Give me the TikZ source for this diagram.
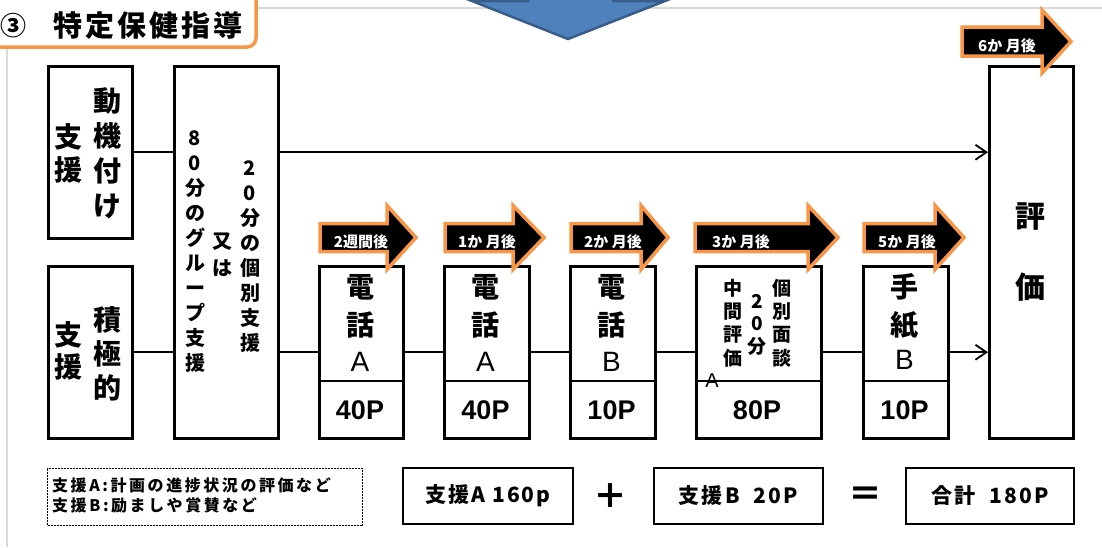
\documentclass[tikz,border=0pt]{standalone}
\usepackage{fontspec}
\setmainfont{Liberation Sans}
\newfontfamily\jp{Noto Sans CJK JP}
\newfontfamily\jpls{Noto Sans CJK JP}[LetterSpace=16]
\newfontfamily\jplt{Noto Sans CJK JP}[LetterSpace=10]
\newfontfamily\jpti{Noto Sans CJK JP}[LetterSpace=10]
\newfontfamily\lat{Liberation Sans}
\usetikzlibrary{arrows.meta,shadows}
\definecolor{orng}{HTML}{F79646}
\definecolor{blu}{HTML}{4F81BD}
\definecolor{dblu}{HTML}{385D8A}
\definecolor{grd}{HTML}{D9D9D9}
\newcommand\fs[2]{\fontsize{#1}{#2}\selectfont}
\newcommand\bx[5]{\node[box,minimum width=#4,minimum height=#5] (#1) at (#2,#3) {};}
\newcommand\oarr[9]{%
  \draw[oarrow] (#1,#4-#5) -- (#2,#4-#5) -- (#2,#4-#6) -- (#3,#4) -- (#2,#4+#6) -- (#2,#4+#5) -- (#1,#4+#5) -- cycle;
  \node[olbl] (#7) at (#9,#4+4) {#8};}
\begin{document}
\begin{tikzpicture}[x=1pt,y=-1pt,
  box/.style={draw,line width=2.5pt,fill=white,inner sep=0pt,anchor=north west},
  sbox/.style={draw,line width=1.8pt,fill=white,inner sep=0pt,anchor=north west,
     drop shadow={shadow xshift=1.2pt,shadow yshift=-1.2pt,fill=black,opacity=1}},
  dbox/.style={draw,line width=1.4pt,inner sep=0pt,anchor=north west,dash pattern=on 2pt off 1pt},
  conn/.style={line width=1.8pt},
  tip/.style={-{Straight Barb[length=11pt,width=15pt,line width=1.8pt]}},
  oarrow/.style={draw=orng,line width=3.5pt,fill=black,line join=miter},
  olbl/.style={text=white,inner sep=0pt,font=\jp\bfseries\fs{15}{15}},
  vt/.style={align=center,inner sep=0pt},
  txt/.style={inner sep=0pt}]
\useasboundingbox (0,0) rectangle (1102,547);
\clip (0,0) rectangle (1102,547);
% grid lines
\draw[grd,line width=1.5pt] (258,8) -- (1102,8);
\draw[grd,line width=1.5pt] (7,47) -- (7,547);
% blue arrow
\draw[dblu,line width=2.5pt,fill=blu,line join=miter] (528,-20) -- (528,1) -- (472,1) -- (568,39) -- (665,1) -- (613,1) -- (613,-20) -- cycle;
% title
\draw[orng,line width=3.5pt,fill=white,rounded corners=9pt] (-20,-20) rectangle (256,47);
\node[txt,font=\jp\bfseries\fs{26}{26}] (circ) at (13,26) {③};
\node[txt,font=\jpti\bfseries\fs{29}{29}] (title) at (148,26) {特定保健指導};
% boxes
\bx{m1}{47}{65}{84}{172}
\bx{m2}{47}{265}{84}{172}
\bx{tall}{173}{65}{104}{372}
\bx{b1}{318}{265}{84}{172}
\bx{b2}{443}{265}{85}{172}
\bx{b3}{569}{265}{85}{172}
\bx{b4}{695}{265}{125}{172}
\bx{b5}{862}{265}{85}{172}
\bx{ev}{988}{65}{84}{372}
\coordinate (divy) at (0,381);
\foreach \b in {b1,b2,b3,b4,b5}
  \draw[line width=2.5pt] (\b.west |- divy) -- (\b.east |- divy);
% connectors
\draw[conn] (m1.east) -- (m1.east -| tall.west);
\draw[conn,tip] (m1.east -| tall.east) -- (m1.east -| ev.west);
\draw[conn] (m2.east) -- (m2.east -| tall.west);
\draw[conn] (m2.east -| tall.east) -- (b1.west);
\draw[conn] (b1.east) -- (b2.west);
\draw[conn] (b2.east) -- (b3.west);
\draw[conn] (b3.east) -- (b4.west);
\draw[conn] (b4.east) -- (b5.west);
\draw[conn,tip] (b5.east) -- (b5.east -| ev.west);
% orange arrows
\oarr{320}{387}{416}{237.5}{14}{32}{l1}{2週間後}{361}
\oarr{445}{513}{544}{237.5}{14}{32}{l2}{1か 月後}{487}
\oarr{571}{641}{668}{237.5}{14}{32}{l3}{2か 月後}{613}
\oarr{695}{808}{838}{237.5}{14}{32}{l4}{3か 月後}{741}
\oarr{864}{935}{964}{237.5}{14}{32}{l5}{5か 月後}{907}
\oarr{962}{1042}{1071}{41.5}{14.5}{31.5}{l6}{6か 月後}{1007}
% texts in left boxes
\node[vt,font=\jp\bfseries\fs{28}{35}] (tm1a) at (107,153.5) {動\\機\\付\\け};
\node[vt,font=\jp\bfseries\fs{28}{33}] (tm1b) at (68,153.5) {支\\援};
\node[vt,font=\jp\bfseries\fs{28}{34}] (tm2a) at (107,354) {積\\極\\的};
\node[vt,font=\jp\bfseries\fs{28}{32}] (tm2b) at (68,351) {支\\援};
% tall box
\node[vt,font=\jp\bfseries\fs{20}{25}] (tt1) at (195,251.5) {8\\0\\分\\の\\グ\\ル\\ー\\プ\\支\\援};
\node[vt,font=\jp\bfseries\fs{20}{27}] (tt2) at (222,254.5) {又\\は};
\node[vt,font=\jp\bfseries\fs{20}{25}] (tt3) at (250,256.5) {2\\0\\分\\の\\個\\別\\支\\援};
% step boxes
\node[vt,font=\jp\bfseries\fs{28}{38}] (tb1) at (360,306) {電\\話};
\node[txt,font=\lat\fs{28}{28}] (tb1a) at (360,362) {A};
\node[txt,font=\lat\bfseries\fs{27}{27}] (pb1) at (360,410) {40P};
\node[vt,font=\jp\bfseries\fs{28}{38}] (tb2) at (485.5,306) {電\\話};
\node[txt,font=\lat\fs{28}{28}] (tb2a) at (485.5,362) {A};
\node[txt,font=\lat\bfseries\fs{27}{27}] (pb2) at (485.5,410) {40P};
\node[vt,font=\jp\bfseries\fs{28}{38}] (tb3) at (611.5,306) {電\\話};
\node[txt,font=\lat\fs{28}{28}] (tb3a) at (611.5,362) {B};
\node[txt,font=\lat\bfseries\fs{27}{27}] (pb3) at (611.5,410) {10P};
\node[vt,font=\jp\bfseries\fs{19}{23.3}] (tb4a) at (733,323) {中\\間\\評\\価};
\node[vt,font=\jp\bfseries\fs{19}{22.5}] (tb4b) at (757,324.5) {2\\0\\分};
\node[vt,font=\jp\bfseries\fs{19}{23.3}] (tb4c) at (782,323) {個\\別\\面\\談};
\node[txt,font=\lat\fs{20}{20}] (tb4d) at (712,381) {A};
\node[txt,font=\lat\bfseries\fs{27}{27}] (pb4) at (757,410) {80P};
\node[vt,font=\jp\bfseries\fs{28}{38}] (tb5) at (904.5,306) {手\\紙};
\node[txt,font=\lat\fs{28}{28}] (tb5a) at (904.5,360) {B};
\node[txt,font=\lat\bfseries\fs{27}{27}] (pb5) at (904.5,410) {10P};
\node[vt,font=\jp\bfseries\fs{30}{71}] (tev) at (1030,252.5) {評\\価};
% bottom row
\node[dbox,minimum width=315,minimum height=57] (note) at (47,468) {};
\node[txt,anchor=west,font=\jpls\bfseries\fs{16}{16}] (n1) at (52,485) {支援A:計画の進捗状況の評価など};
\node[txt,anchor=west,font=\jpls\bfseries\fs{16}{16}] (n2) at (52,505) {支援B:励ましや賞賛など};
\node[sbox,minimum width=170,minimum height=56] (sa) at (402,467) {};
\node[txt,font=\jplt\bfseries\fs{21}{21}] (sat) at (sa.center) {支援A 160p};
\node[txt,font=\jp\bfseries\fs{34}{34}] (plus) at (610,496) {＋};
\node[sbox,minimum width=169,minimum height=56] (sb) at (653,467) {};
\node[txt,font=\jplt\bfseries\fs{21}{21}] (sbt) at (sb.center) {支援B\hspace{14pt}20P};
\node[txt,font=\jp\bfseries\fs{34}{34}] (eq) at (865,497) {＝};
\node[sbox,minimum width=168,minimum height=56] (sc) at (905,467) {};
\node[txt,font=\jplt\bfseries\fs{21}{21}] (sct) at (sc.center) {合計\hspace{14pt}180P};
\end{tikzpicture}
\end{document}
